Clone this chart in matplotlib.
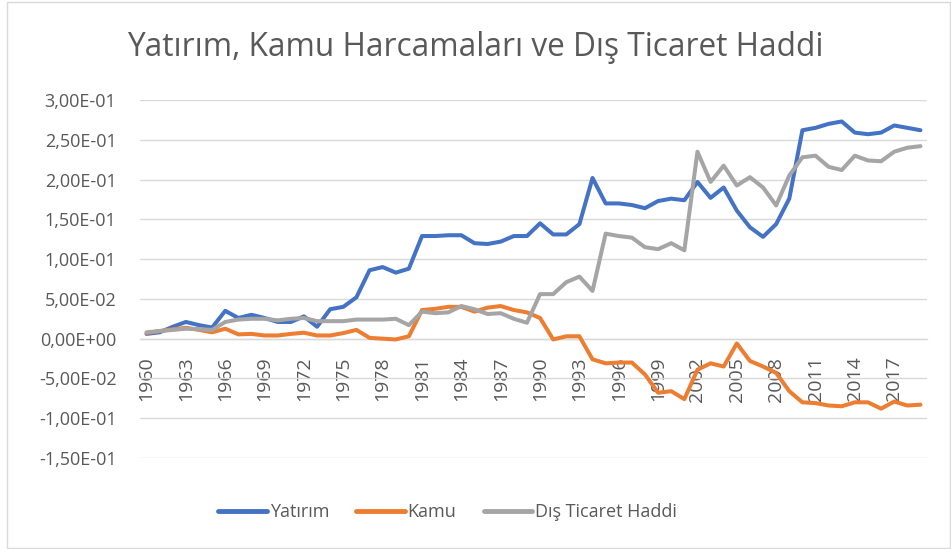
import matplotlib
matplotlib.use("Agg")
import matplotlib.pyplot as plt
from matplotlib.patches import Rectangle
import numpy as np

years = list(range(1960, 2020))

yatirim = [0.006, 0.008, 0.015, 0.021, 0.017, 0.014, 0.035, 0.026, 0.030, 0.026,
           0.021, 0.021, 0.028, 0.015, 0.037, 0.040, 0.052, 0.086, 0.090, 0.083,
           0.088, 0.129, 0.129, 0.130, 0.130, 0.120, 0.119, 0.122, 0.129, 0.129,
           0.145, 0.131, 0.131, 0.144, 0.202, 0.170, 0.170, 0.168, 0.164, 0.173,
           0.176, 0.174, 0.197, 0.177, 0.190, 0.161, 0.140, 0.128, 0.144, 0.176,
           0.262, 0.265, 0.270, 0.273, 0.259, 0.257, 0.259, 0.268, 0.265, 0.262]

kamu = [0.007, 0.0096, 0.0117, 0.0137, 0.011, 0.008, 0.0125, 0.0054, 0.006, 0.004,
        0.004, 0.006, 0.0075, 0.004, 0.004, 0.007, 0.011, 0.001, 0.000, -0.001,
        0.003, 0.036, 0.0375, 0.040, 0.040, 0.034, 0.039, 0.041, 0.036, 0.033,
        0.026, -0.001, 0.003, 0.003, -0.026, -0.031, -0.030, -0.030, -0.045, -0.068,
        -0.066, -0.076, -0.039, -0.031, -0.035, -0.006, -0.028, -0.035, -0.043, -0.066,
        -0.080, -0.081, -0.084, -0.085, -0.080, -0.080, -0.088, -0.079, -0.084, -0.083]

dis_ticaret = [0.008, 0.0096, 0.011, 0.0125, 0.012, 0.011, 0.021, 0.024, 0.025, 0.025,
               0.023, 0.025, 0.026, 0.022, 0.022, 0.022, 0.024, 0.024, 0.024, 0.025,
               0.017, 0.034, 0.032, 0.033, 0.041, 0.037, 0.031, 0.032, 0.025, 0.020,
               0.056, 0.056, 0.071, 0.078, 0.060, 0.132, 0.129, 0.127, 0.115, 0.1125,
               0.120, 0.111, 0.235, 0.197, 0.2175, 0.1925, 0.203, 0.190, 0.1675, 0.205,
               0.228, 0.230, 0.216, 0.212, 0.230, 0.224, 0.223, 0.235, 0.240, 0.242]

series_names = ["Yatırım", "Kamu", "Dış Ticaret Haddi"]
colors = ["#4472C4", "#ED7D31", "#A5A5A5"]
title = "Yatırım, Kamu Harcamaları ve Dış Ticaret Haddi"
yticks = [-0.15, -0.10, -0.05, 0.0, 0.05, 0.10, 0.15, 0.20, 0.25, 0.30]
ytick_labels = ["-1,50E-01", "-1,00E-01", "-5,00E-02", "0,00E+00", "5,00E-02",
                "1,00E-01", "1,50E-01", "2,00E-01", "2,50E-01", "3,00E-01"]

plt.rcParams['font.family'] = ['Open Sans', 'DejaVu Sans']
text_color = "#595959"
grid_color = "#D9D9D9"

W, H = 951, 549
fig = plt.figure(figsize=(W / 100, H / 100), dpi=100)
fig.patch.set_facecolor("white")

# outer chart border
fig.patches.append(Rectangle((7 / W, 1 / H), (W - 8) / W, (H - 3) / H,
                             transform=fig.transFigure, fill=False,
                             edgecolor=grid_color, linewidth=1))

left, right, top, bottom = 140, 927, 100, 458
ax = fig.add_axes([left / W, 1 - bottom / H, (right - left) / W, (bottom - top) / H])

x = np.arange(len(years))
for vals, name, c in zip([yatirim, kamu, dis_ticaret], series_names, colors):
    ax.plot(x, vals, color=c, lw=2.9, label=name,
            solid_capstyle="round", solid_joinstyle="round", zorder=3)

ax.set_xlim(-0.5, len(years) - 0.5)
ax.set_ylim(-0.15, 0.30)

for s in ["left", "right", "top"]:
    ax.spines[s].set_visible(False)
ax.spines["bottom"].set_position(("data", 0))
ax.spines["bottom"].set_color(grid_color)
ax.spines["bottom"].set_linewidth(1)

ax.set_yticks(yticks)
ax.set_yticklabels(ytick_labels)
ax.yaxis.grid(True, color=grid_color, lw=1)
ax.set_axisbelow(True)

tick_idx = list(range(0, len(years), 3))
ax.set_xticks(tick_idx)
ax.set_xticklabels([str(years[i]) for i in tick_idx])

ax.tick_params(axis="y", length=0, pad=17, labelsize=13, labelcolor=text_color)
ax.tick_params(axis="x", length=0, pad=13, labelsize=14, labelcolor=text_color,
               labelrotation=90)

fig.text(0.5, 1 - 56 / H, title, ha="center", va="baseline",
         fontsize=22.8, color=text_color)

leg = fig.legend(loc="center", bbox_to_anchor=(447.5 / W, 1 - 512 / H), ncol=3,
                 frameon=False, fontsize=13, handlelength=2.7,
                 handletextpad=0.15, columnspacing=1.5)
for line in leg.get_lines():
    line.set_linewidth(3.5)
for t in leg.get_texts():
    t.set_color(text_color)

fig.savefig("out.png", dpi=100)
